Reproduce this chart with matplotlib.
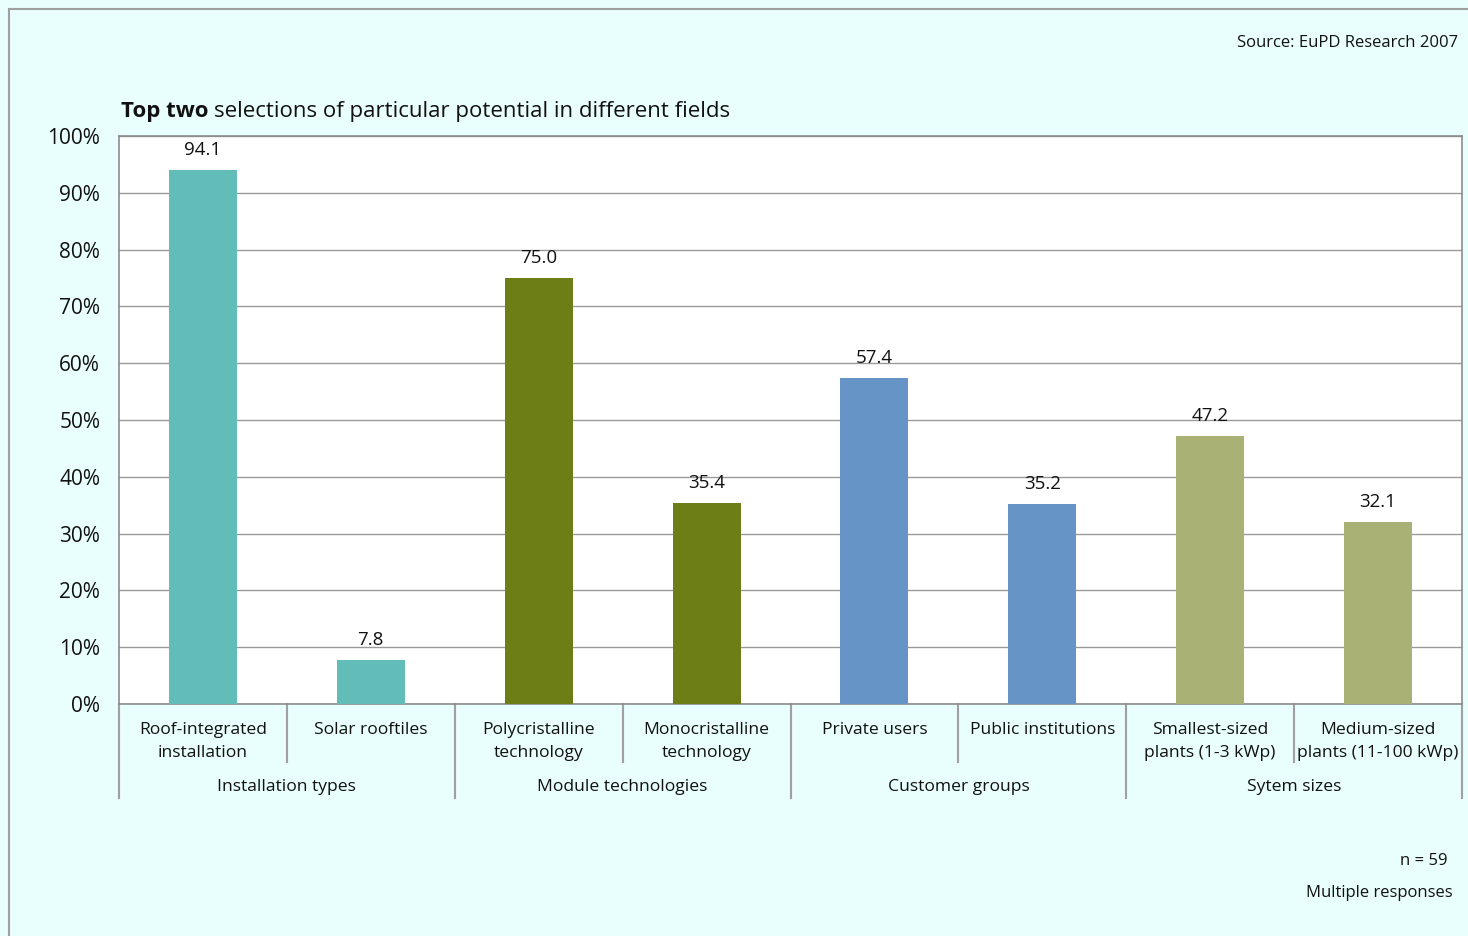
import matplotlib.pyplot as plt
import matplotlib.transforms as mtransforms
from matplotlib.lines import Line2D

plt.rcParams['font.family'] = ['Open Sans', 'DejaVu Sans']

categories = ['Roof-integrated\ninstallation', 'Solar rooftiles',
              'Polycristalline\ntechnology', 'Monocristalline\ntechnology',
              'Private users', 'Public institutions',
              'Smallest-sized\nplants (1-3 kWp)', 'Medium-sized\nplants (11-100 kWp)']
values = [94.1, 7.8, 75.0, 35.4, 57.4, 35.2, 47.2, 32.1]
groups = ['Installation types', 'Module technologies', 'Customer groups', 'Sytem sizes']
group_colors = ['#62BDB9', '#6E7E16', '#6794C7', '#A9B274']
yticks = list(range(0, 101, 10))

W, H = 1468, 936
fig = plt.figure(figsize=(W / 100, H / 100), dpi=100)
fig.patch.set_facecolor('#E9FFFD')

# outer frame (left and top edges only visible)
fig.add_artist(Line2D([9 / W, 9 / W], [0, 1 - 9 / H], transform=fig.transFigure, color='#A0A0A0', lw=1.5))
fig.add_artist(Line2D([9 / W, 1], [1 - 9 / H, 1 - 9 / H], transform=fig.transFigure, color='#A0A0A0', lw=1.5))

left, right, top, bottom = 119, 1462, 136, 704
ax = fig.add_axes([left / W, 1 - bottom / H, (right - left) / W, (bottom - top) / H])
ax.set_facecolor('white')

colors = [group_colors[i // 2] for i in range(len(values))]
x = list(range(len(values)))
ax.bar(x, values, width=0.405, color=colors, zorder=3)
for xi, v in zip(x, values):
    ax.text(xi, v + 1.9, f'{v:.1f}', ha='center', va='bottom', fontsize=13.5, color='#111111')

ax.set_xlim(-0.5, len(values) - 0.5)
ax.set_ylim(0, 100)
ax.set_yticks(yticks)
ax.set_yticklabels([f'{t}%' for t in yticks], fontsize=15, color='#111111')
ax.tick_params(axis='y', length=0, pad=13.5)
ax.set_xticks([])
ax.grid(axis='y', color='#9A9A9A', lw=1, zorder=0)
for s in ax.spines.values():
    s.set_color('#8C8C8C')
    s.set_linewidth(1.2)

# two-level category axis
ph = bottom - top
trans = mtransforms.blended_transform_factory(ax.transData, ax.transAxes)
for i in range(len(values) + 1):
    b = i - 0.5
    depth = (798 - bottom) / ph if i % 2 == 0 else (762 - bottom) / ph
    ax.add_line(Line2D([b, b], [0, -depth], transform=trans, color='#A0A0A0', lw=1.5, clip_on=False))
for xi, c in zip(x, categories):
    ax.text(xi, -(722 - bottom) / ph, c, transform=trans, ha='center', va='top',
            fontsize=12.6, color='#111111', linespacing=1.6)
for g, name in enumerate(groups):
    ax.text(2 * g + 0.5, -(787 - bottom) / ph, name, transform=trans, ha='center', va='center',
            fontsize=12.6, color='#111111')

# title: bold part + regular part
fig.canvas.draw()
r = fig.canvas.get_renderer()
t1 = fig.text(121 / W, 1 - 111 / H, 'Top two', fontsize=16, fontweight='bold', va='center', color='#111111')
bb = t1.get_window_extent(renderer=r)
fig.text(bb.x1 / W + 5 / W, 1 - 111 / H, 'selections of particular potential in different fields',
         fontsize=16, va='center', color='#111111')

fig.text(1458 / W, 1 - 43 / H, 'Source: EuPD Research 2007', ha='right', va='center', fontsize=12, color='#111111')
fig.text(1447 / W, 1 - 861 / H, 'n = 59', ha='right', va='center', fontsize=12, color='#111111')
fig.text(1453 / W, 1 - 893 / H, 'Multiple responses', ha='right', va='center', fontsize=12, color='#111111')

fig.savefig('out.png', dpi=100, facecolor=fig.get_facecolor())
